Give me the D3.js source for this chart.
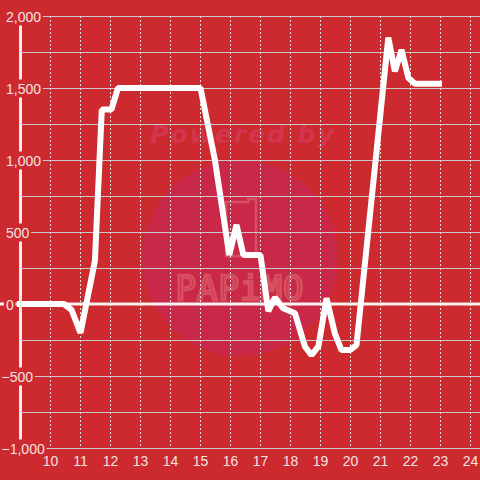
<!DOCTYPE html>
<html>
<head>
<meta charset="utf-8">
<script src="https://cdn.jsdelivr.net/npm/d3@7"></script>
<style>
  html, body { margin: 0; padding: 0; background: #cc2a2f; }
  svg { display: block; }
</style>
</head>
<body>
<figure id="chart" style="margin:0"></figure>
<script>
// hours of day / value
const hours = [8.88, 10.45, 10.7, 11.0, 11.48, 11.71, 12.03, 12.25, 15.0, 15.48, 15.96, 16.2, 16.43, 17.0,
  17.26, 17.48, 17.76, 18.15, 18.48, 18.7, 18.93, 19.2, 19.48, 19.7, 19.98, 20.2, 21.26, 21.48, 21.7,
  21.93, 22.15, 23.05];
const values = [0, 0, -40, -200, 300, 1350, 1350, 1500, 1500, 1000, 340, 550, 340, 340,
  -50, 45, -30, -65, -295, -355, -295, 40, -205, -320, -320, -285, 1850, 1615, 1765,
  1570, 1530, 1530];
const xTicks = [10, 11, 12, 13, 14, 15, 16, 17, 18, 19, 20, 21, 22, 23, 24];
const yGrid = [-1000, -750, -500, -250, 0, 250, 500, 750, 1000, 1250, 1500, 1750, 2000];
const yLabels = [-1000, -500, 0, 500, 1000, 1500, 2000];

const W = 480, H = 480;
const bg = '#cc2a2f';
const fmt = d3.format(',');

const svg = d3.select('#chart').append('svg')
  .attr('width', W).attr('height', H);

svg.append('rect').attr('width', W).attr('height', H).attr('fill', bg);

const x = d3.scaleLinear().domain([10, 24]).range([50.5, 470.5]);
const y = d3.scaleLinear().domain([-1000, 2000]).range([448, 16]);
const axisX = 20.5;

// watermark
const wm = svg.append('g');
wm.append('circle').attr('cx', 240).attr('cy', 258).attr('r', 98).attr('fill', '#ca2848');
wm.append('text')
  .attr('x', 243).attr('y', 143)
  .attr('text-anchor', 'middle')
  .attr('font-family', 'DejaVu Sans, sans-serif')
  .attr('font-weight', 'bold').attr('font-style', 'italic')
  .attr('font-size', 25).attr('letter-spacing', 2)
  .attr('fill', '#d3354e')
  .text('Powered by');
wm.append('path')
  .attr('d', 'M226,256 V202 H248 V199 H256 V256 Z')
  .attr('fill', 'none').attr('stroke', '#d6505f').attr('stroke-width', 2.5);
wm.append('text')
  .attr('x', 240).attr('y', 300)
  .attr('text-anchor', 'middle')
  .attr('font-family', 'DejaVu Sans Mono, monospace')
  .attr('font-size', 34).attr('letter-spacing', 1)
  .attr('fill', 'none').attr('stroke', '#d6505f').attr('stroke-width', 2.5)
  .text('PAPiMO');

// horizontal grid
svg.append('g').selectAll('line').data(yGrid).join('line')
  .attr('x1', axisX).attr('x2', W)
  .attr('y1', d => Math.round(y(d)) + 0.5).attr('y2', d => Math.round(y(d)) + 0.5)
  .attr('stroke', '#c9c9c9').attr('stroke-width', 1);

// vertical dashed grid
svg.append('g').selectAll('line').data(xTicks).join('line')
  .attr('x1', d => x(d)).attr('x2', d => x(d))
  .attr('y1', y(2000)).attr('y2', y(-1000))
  .attr('stroke', '#e6dede').attr('stroke-width', 1).attr('stroke-dasharray', '2,2');

// zero line
svg.append('line')
  .attr('x1', 0).attr('x2', W).attr('y1', y(0)).attr('y2', y(0))
  .attr('stroke', '#f7f2f2').attr('stroke-width', 3);

// data line
const line = d3.line()
  .x((d, i) => x(hours[i]))
  .y(d => y(d));
svg.append('path')
  .datum(values)
  .attr('d', line)
  .attr('fill', 'none')
  .attr('stroke', '#ffffff')
  .attr('stroke-width', 6)
  .attr('stroke-linejoin', 'bevel');

// y axis line
svg.append('line')
  .attr('x1', axisX).attr('x2', axisX).attr('y1', y(2000)).attr('y2', y(-1000))
  .attr('stroke', '#f2eeee').attr('stroke-width', 3);

// y labels with background boxes
const yl = svg.append('g').selectAll('g').data(yLabels).join('g');
yl.append('text')
  .attr('x', d => d < 0 ? 1.5 : 6)
  .attr('y', d => y(d) + 5.5)
  .attr('font-family', 'Liberation Sans, Arial, sans-serif')
  .attr('font-size', 14)
  .attr('fill', '#f5e3e3')
  .text(d => fmt(d));
yl.each(function () {
  const g = d3.select(this);
  const b = g.select('text').node().getBBox();
  g.insert('rect', 'text')
    .attr('x', b.x - 2).attr('y', b.y - 1)
    .attr('width', b.width + 3.5).attr('height', b.height + 2)
    .attr('fill', bg);
});

// x labels
svg.append('g').selectAll('text').data(xTicks).join('text')
  .attr('x', d => x(d))
  .attr('y', 466)
  .attr('text-anchor', 'middle')
  .attr('font-family', 'Liberation Sans, Arial, sans-serif')
  .attr('font-size', 14)
  .attr('fill', '#f5e3e3')
  .text(d => d);
</script>
</body>
</html>
